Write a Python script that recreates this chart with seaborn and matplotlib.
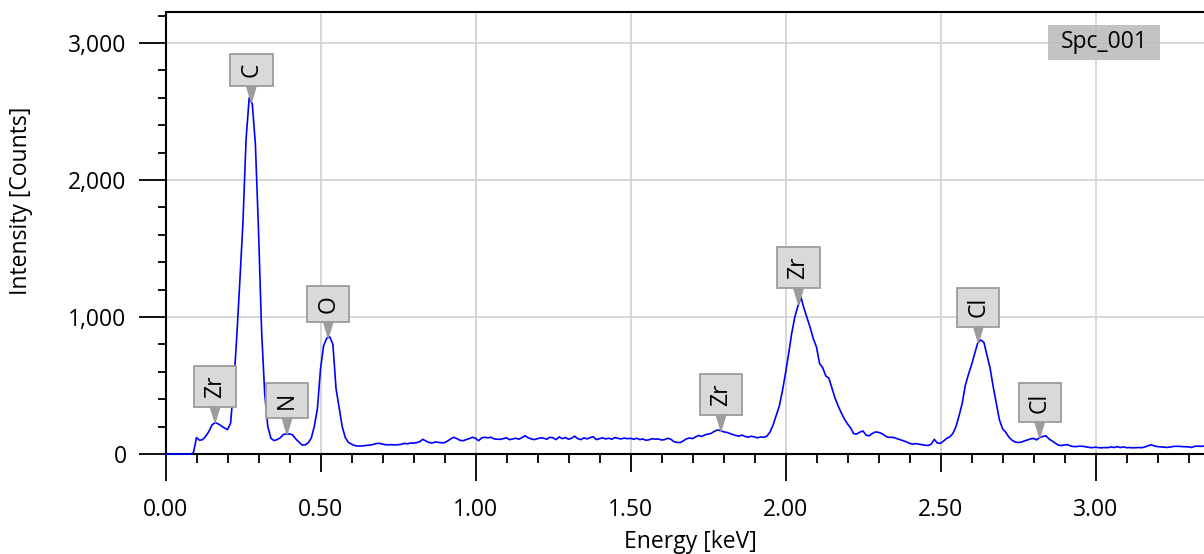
import numpy as np
import matplotlib
matplotlib.use("Agg")
import matplotlib.pyplot as plt
import seaborn as sns
from matplotlib.ticker import FixedLocator, MultipleLocator, FuncFormatter
from matplotlib.patches import Rectangle

# EDS spectrum: counts per 0.01 keV channel, starting at 0.00 keV
energy_start = 0.0
energy_step = 0.01
counts = [
    0, 0, 0, 0, 0, 0, 0, 0, 0, 8,
    120, 100, 105, 130, 165, 212, 229, 220, 205, 190,
    178, 225, 500, 860, 1270, 1700, 2300, 2600, 2555, 2260,
    1635, 900, 440, 200, 115, 98, 105, 118, 142, 146,
    146, 140, 110, 88, 66, 66, 80, 115, 200, 330,
    620, 790, 845, 855, 800, 480, 340, 200, 120, 85,
    72, 62, 58, 58, 60, 63, 65, 70, 76, 78,
    72, 68, 67, 68, 66, 68, 70, 78, 74, 80,
    80, 83, 90, 107, 95, 84, 80, 88, 85, 82,
    83, 95, 110, 122, 112, 100, 97, 105, 112, 122,
    115, 97, 118, 122, 118, 122, 110, 108, 107, 112,
    118, 105, 110, 115, 108, 120, 133, 118, 110, 105,
    112, 118, 115, 108, 122, 118, 105, 125, 112, 120,
    108, 115, 130, 112, 105, 118, 110, 120, 126, 105,
    112, 118, 110, 115, 108, 120, 114, 110, 116, 112,
    114, 108, 115, 105, 110, 100, 104, 112, 108, 110,
    102, 105, 115, 108, 90, 85, 83, 95, 110, 117,
    112, 125, 135, 128, 140, 145, 150, 165, 175, 172,
    162, 158, 150, 142, 135, 130, 138, 128, 122, 130,
    124, 118, 125, 122, 130, 160, 212, 280, 350, 460,
    590, 730, 880, 1000, 1080, 1144, 1060, 990, 920, 840,
    780, 660, 630, 570, 553, 480, 407, 350, 300, 255,
    220, 190, 148, 146, 160, 168, 138, 132, 150, 161,
    158, 150, 135, 122, 122, 120, 112, 104, 97, 88,
    78, 72, 76, 72, 68, 64, 62, 72, 107, 80,
    78, 95, 114, 125, 150, 200, 280, 370, 500, 580,
    650, 730, 810, 832, 815, 720, 626, 491, 370, 250,
    185, 160, 125, 102, 88, 84, 86, 95, 102, 110,
    114, 103, 120, 128, 133, 110, 95, 80, 65, 62,
    66, 68, 58, 54, 55, 57, 56, 52, 48, 46,
    50, 46, 45, 47, 46, 52, 47, 54, 47, 52,
    46, 47, 45, 46, 47, 46, 52, 60, 68, 58,
    54, 52, 50, 48, 50, 55, 56, 56, 54, 53,
    52, 48, 56, 58, 56, 58,
]
energy = np.round(energy_start + energy_step * np.arange(len(counts)), 2)

# Identified lines (element, line energy in keV)
peak_elements = ["Zr", "C", "N", "O", "Zr", "Zr", "Cl", "Cl"]
peak_energies = [0.16, 0.277, 0.392, 0.525, 1.792, 2.042, 2.622, 2.82]

spectrum_name = "Spc_001"
x_ticks = [0.0, 0.5, 1.0, 1.5, 2.0, 2.5, 3.0]
y_ticks = [0, 1000, 2000, 3000]
x_label = "Energy [keV]"
y_label = "Intensity [Counts]"

sns.set_theme(style="white")
plt.rcParams["font.family"] = ["Open Sans", "DejaVu Sans"]
plt.rcParams["text.color"] = "#000000"

W, H = 1204, 554
fig = plt.figure(figsize=(W / 100, H / 100), dpi=100)
ax = fig.add_axes([165.5 / W, 100 / H, (W - 165.5) / W, 442 / H])

ax.set_axisbelow(True)
sns.lineplot(x=energy, y=counts, color="#0000ff", linewidth=1.2, ax=ax,
             zorder=3, clip_on=False)

ax.set_xlim(0, 3.35)
ax.set_ylim(0, 3226)

fs = 16.5
ax.xaxis.set_major_locator(FixedLocator(x_ticks))
ax.xaxis.set_minor_locator(MultipleLocator(0.1))
ax.yaxis.set_major_locator(FixedLocator(y_ticks))
ax.yaxis.set_minor_locator(MultipleLocator(200))
ax.xaxis.set_major_formatter(FuncFormatter(lambda v, p: f"{v:.2f}"))
ax.yaxis.set_major_formatter(FuncFormatter(lambda v, p: f"{int(round(v)):,}"))

ax.tick_params(axis="x", which="major", direction="out", length=13, width=1.3,
               color="black", labelsize=fs, labelcolor="black", pad=19,
               bottom=True, top=False)
ax.tick_params(axis="x", which="minor", direction="out", length=6.5, width=1.3,
               color="black", bottom=True, top=False)
ax.tick_params(axis="y", which="major", direction="out", length=19.5, width=1.3,
               color="black", labelsize=fs, labelcolor="black", pad=8.5,
               left=True, right=False)
ax.tick_params(axis="y", which="minor", direction="out", length=6, width=1.3,
               color="black", left=True, right=False)

# whole-keV ticks are drawn longer than the half-keV ones
locs = ax.xaxis.get_majorticklocs()
for loc, tick in zip(locs, ax.xaxis.get_major_ticks(len(locs))):
    if abs(loc - round(loc)) < 1e-9:
        tick.tick1line.set_markersize(19.5)

ax.grid(True, which="major", color="#d4d4d4", linewidth=1.3)

for side in ["left", "bottom", "top"]:
    ax.spines[side].set_visible(True)
    ax.spines[side].set_color("black")
    ax.spines[side].set_linewidth(1.5)
ax.spines["right"].set_visible(False)

ax.set_xlabel(x_label, fontsize=fs, color="black")
ax.set_ylabel(y_label, fontsize=fs, color="black")
ax.xaxis.set_label_coords(0.505, -0.172)
ax.yaxis.set_label_coords(-0.128, 0.572)

# element callouts pointing at their lines
for name, e in zip(peak_elements, peak_energies):
    y_tip = float(np.interp(e, energy, counts))
    ax.annotate(
        name, xy=(e, y_tip), xycoords="data",
        xytext=(0, 18), textcoords="offset points",
        rotation=90, ha="center", va="bottom", fontsize=fs, color="black",
        bbox=dict(boxstyle="square,pad=0.4", fc="#d9d9d9", ec="#9c9c9c", lw=1.3),
        arrowprops=dict(arrowstyle="wedge,tail_width=0.4,shrink_factor=0.5",
                        fc="#9c9c9c", ec="#9c9c9c", shrinkA=0, shrinkB=0),
        zorder=5,
    )

# spectrum name tag
x0 = (1048 - 165.5) / (W - 165.5)
x1 = (1160 - 165.5) / (W - 165.5)
y0 = (454 - 60) / 442
y1 = (454 - 25) / 442
ax.add_patch(Rectangle((x0, y0), x1 - x0, y1 - y0, transform=ax.transAxes,
                       fc="#bdbdbd", ec="none", alpha=0.9, zorder=4))
ax.text((x0 + x1) / 2, (y0 + y1) / 2, spectrum_name, transform=ax.transAxes,
        ha="center", va="center", fontsize=fs, color="black", zorder=6)

fig.savefig("out.png", dpi=100)
